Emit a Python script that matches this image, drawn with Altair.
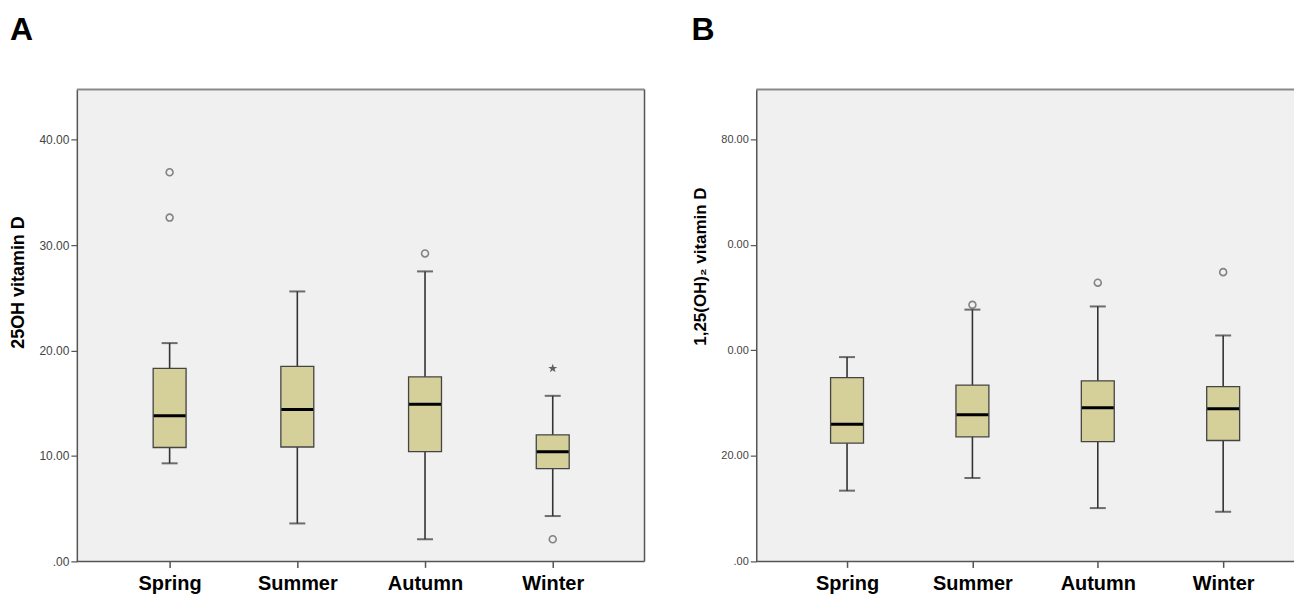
import altair as alt
import pandas as pd

seasons = ["Spring", "Summer", "Autumn", "Winter"]

# Panel A: 25OH vitamin D
a_lower = [9.3, 3.6, 2.1, 4.3]
a_q1 = [10.8, 10.85, 10.4, 8.8]
a_median = [13.8, 14.4, 14.9, 10.4]
a_q3 = [18.3, 18.5, 17.5, 12.0]
a_upper = [20.7, 25.6, 27.5, 15.7]
a_out_season = ["Spring", "Spring", "Autumn", "Winter"]
a_out_value = [36.9, 32.6, 29.2, 2.1]
a_ext_season = ["Winter"]
a_ext_value = [18.3]
a_ticks = [0, 10, 20, 30, 40]
a_tick_labels = [".00", "10.00", "20.00", "30.00", "40.00"]

# Panel B: 1,25(OH)2 vitamin D
b_lower = [13.4, 15.8, 10.1, 9.4]
b_q1 = [22.4, 23.6, 22.7, 22.9]
b_median = [26.0, 27.8, 29.1, 28.9]
b_q3 = [34.8, 33.4, 34.2, 33.1]
b_upper = [38.7, 47.7, 48.3, 42.8]
b_out_season = ["Summer", "Autumn", "Winter"]
b_out_value = [48.6, 52.8, 54.8]
b_ticks = [0, 20, 40, 60, 80]
b_tick_labels = [".00", "20.00", "0.00", "0.00", "80.00"]

FONT = "Liberation Sans"
BOX_FILL = "#d5d09a"
STAR = "M0,-1L0.24,-0.31L0.95,-0.31L0.38,0.12L0.59,0.81L0,0.4L-0.59,0.81L-0.38,0.12L-0.95,-0.31L-0.24,-0.31Z"


def label_expr(vals, labels):
    parts = [f"datum.value == {v} ? '{l}'" for v, l in zip(vals, labels)]
    return " : ".join(parts) + " : ''"


def panel(letter, ytitle, title_size, title_x, title_y, lower, q1, med, q3, upper,
          out_s, out_v, ext_s, ext_v, ymax, ticks, tick_labels, W, H, xrange, label_size):
    summ = pd.DataFrame({"season": seasons, "lower": lower, "q1": q1, "median": med,
                         "q3": q3, "upper": upper})
    outl = pd.DataFrame({"season": out_s, "value": out_v})
    one = pd.DataFrame({"k": [0]})

    xs = alt.X("season:N", sort=seasons,
               scale=alt.Scale(type="point", domain=seasons, range=xrange, padding=0),
               axis=alt.Axis(title=None, labelAngle=0, labelFont=FONT, labelFontSize=20,
                             labelFontWeight="bold", labelColor="black", labelPadding=6,
                             tickSize=6, tickColor="#555", tickWidth=1.5, domain=False))
    yscale = alt.Scale(domain=[0, ymax], nice=False, zero=False)
    yaxis = alt.Axis(values=ticks, labelExpr=label_expr(ticks, tick_labels), labelFont=FONT,
                     labelFontSize=label_size, labelColor="#444", tickSize=6, tickColor="#555",
                     tickWidth=1.2, labelPadding=2, domainColor="#555", domainWidth=1.5, grid=False,
                     title=ytitle, titleFont=FONT, titleFontSize=title_size,
                     titleFontWeight="bold", titleColor="black", titleX=title_x, titleY=title_y,
                     titleAlign="center", titleBaseline="middle")

    whisk = alt.Chart(summ).mark_rule(color="#333", strokeWidth=1.6).encode(
        x=xs, y=alt.Y("lower:Q", scale=yscale, axis=yaxis), y2="upper:Q")
    cap_lo = alt.Chart(summ).mark_tick(color="#333", size=16, thickness=2).encode(
        x=alt.X("season:N", sort=seasons), y=alt.Y("lower:Q"))
    cap_hi = alt.Chart(summ).mark_tick(color="#333", size=16, thickness=2).encode(
        x=alt.X("season:N", sort=seasons), y=alt.Y("upper:Q"))
    box = alt.Chart(summ).mark_bar(size=33, fill=BOX_FILL, stroke="#444", strokeWidth=1.3).encode(
        x=alt.X("season:N", sort=seasons), y=alt.Y("q1:Q"), y2="q3:Q")
    medl = alt.Chart(summ).mark_tick(color="black", size=32, thickness=3, opacity=1).encode(
        x=alt.X("season:N", sort=seasons), y=alt.Y("median:Q"))
    pts = alt.Chart(outl).mark_point(shape="circle", filled=False, size=48, color="#555",
                                     strokeWidth=1.6).encode(
        x=alt.X("season:N", sort=seasons), y=alt.Y("value:Q"))
    layers = [whisk, cap_lo, cap_hi, box, medl, pts]
    if ext_s:
        ext = pd.DataFrame({"season": ext_s, "value": ext_v})
        layers.append(alt.Chart(ext).mark_point(shape=STAR, filled=True, size=90, color="#222",
                                                strokeWidth=0).encode(
            x=alt.X("season:N", sort=seasons), y=alt.Y("value:Q")))
    top = alt.Chart(one).mark_rule(color="#8a8a8a", strokeWidth=2).encode(
        x=alt.value(0), x2=alt.value(W), y=alt.value(0))
    bottom = alt.Chart(one).mark_rule(color="#555", strokeWidth=1.5).encode(
        x=alt.value(0), x2=alt.value(W), y=alt.value(H))
    layers += [top, bottom]
    if letter == "A":
        layers.append(alt.Chart(one).mark_rule(color="#555", strokeWidth=1.5).encode(
            x=alt.value(W), y=alt.value(0), y2=alt.value(H)))
    return alt.layer(*layers).properties(
        width=W, height=H,
        title=alt.TitleParams(letter, anchor="start", frame="bounds", font=FONT, fontSize=32,
                              fontWeight="bold", color="black", offset=42))


pa = panel("A", "25OH vitamin D", 18, -58, 193, a_lower, a_q1, a_median, a_q3, a_upper,
           a_out_season, a_out_value, a_ext_season, a_ext_value, 44.75, a_ticks, a_tick_labels,
           569, 473, [93, 477], 12)
pb = panel("B", "1,25(OH)\u2082 vitamin D", 17, -56, 177, b_lower, b_q1, b_median, b_q3, b_upper,
           b_out_season, b_out_value, [], [], 89.4, b_ticks, b_tick_labels,
           539, 473, [91, 468], 11)

chart = alt.hconcat(pa, pb, spacing=46).properties(
    padding={"left": 2, "top": 5, "right": 0, "bottom": 0},
    background="white",
).configure_view(fill="#f0f0f0", strokeWidth=0)

chart.save("out.html", embed_options={"renderer": "svg", "actions": False})
